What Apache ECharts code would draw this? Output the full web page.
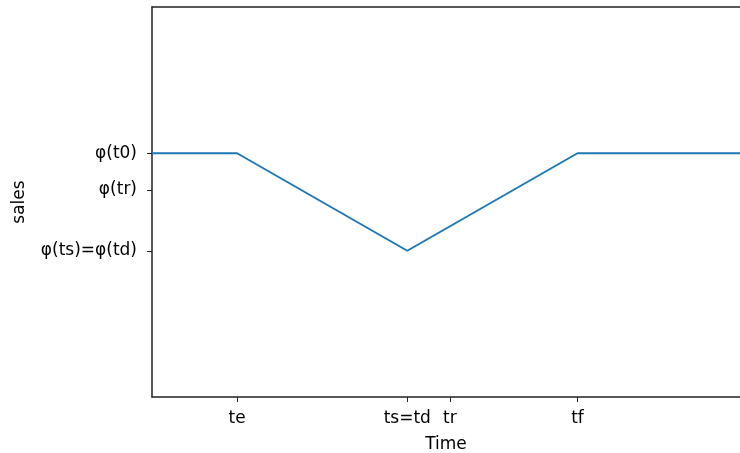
<!DOCTYPE html>
<html>
<head>
<meta charset="utf-8">
<script src="https://cdn.jsdelivr.net/npm/echarts@6/dist/echarts.min.js"></script>
<style>
  html, body { margin: 0; padding: 0; background: #fff; }
  #chart { width: 740px; height: 453px; }
</style>
</head>
<body>
<div id="chart"></div>
<script>
// time points and sales level along the curve
const timeValues = [0, 2, 6, 10, 14];
const salesValues = [5, 5, 3, 5, 5];

// tick positions and labels
const xTickValues = [2, 6, 7, 10];
const xTickLabels = ['te', 'ts=td', 'tr', 'tf'];
const yTickValues = [3, 4.25, 5];
const yTickLabels = ['φ(ts)=φ(td)', 'φ(tr)', 'φ(t0)'];

const labelFor = (values, labels) => (v) => {
  const i = values.findIndex((t) => Math.abs(t - v) < 1e-6);
  return i >= 0 ? labels[i] : '';
};

const FONT = 'DejaVu Sans';
const AXIS_COLOR = '#222';

const chart = echarts.init(document.getElementById('chart'));

chart.setOption({
  animation: false,
  grid: {
    left: 152,
    top: 7,
    right: 0,
    bottom: 56,
    containLabel: false,
    outerBoundsMode: 'none'
  },
  xAxis: [
    {
      type: 'value',
      min: 0,
      max: 13.82,
      name: 'Time',
      nameLocation: 'middle',
      nameGap: 39,
      nameTextStyle: { fontFamily: FONT, fontSize: 17, color: '#000' },
      axisLine: { show: true, lineStyle: { color: AXIS_COLOR, width: 1.5 } },
      splitLine: { show: false },
      axisTick: {
        show: true,
        length: 5,
        customValues: xTickValues,
        lineStyle: { color: AXIS_COLOR }
      },
      axisLabel: {
        customValues: xTickValues,
        formatter: labelFor(xTickValues, xTickLabels),
        margin: 13,
        fontFamily: FONT,
        fontSize: 17,
        color: '#000'
      }
    },
    {
      // top spine only
      type: 'value',
      position: 'top',
      min: 0,
      max: 13.82,
      axisLine: { show: true, lineStyle: { color: AXIS_COLOR, width: 1.5 } },
      axisTick: { show: false },
      axisLabel: { show: false },
      splitLine: { show: false }
    }
  ],
  yAxis: {
    type: 'value',
    min: 0,
    max: 8,
    name: 'sales',
    nameLocation: 'middle',
    nameGap: 124,
    nameRotate: 90,
    nameTextStyle: { fontFamily: FONT, fontSize: 17, color: '#000' },
    axisLine: { show: true, lineStyle: { color: AXIS_COLOR, width: 1.5 } },
    splitLine: { show: false },
    axisTick: {
      show: true,
      length: 5,
      customValues: yTickValues,
      lineStyle: { color: AXIS_COLOR }
    },
    axisLabel: {
      customValues: yTickValues,
      formatter: labelFor(yTickValues, yTickLabels),
      margin: 15,
      fontFamily: FONT,
      fontSize: 17,
      color: '#000'
    }
  },
  series: [
    {
      type: 'line',
      data: timeValues.map((t, i) => [t, salesValues[i]]),
      showSymbol: false,
      lineStyle: { color: '#1f77b4', width: 2 },
      clip: true
    }
  ]
});
</script>
</body>
</html>
